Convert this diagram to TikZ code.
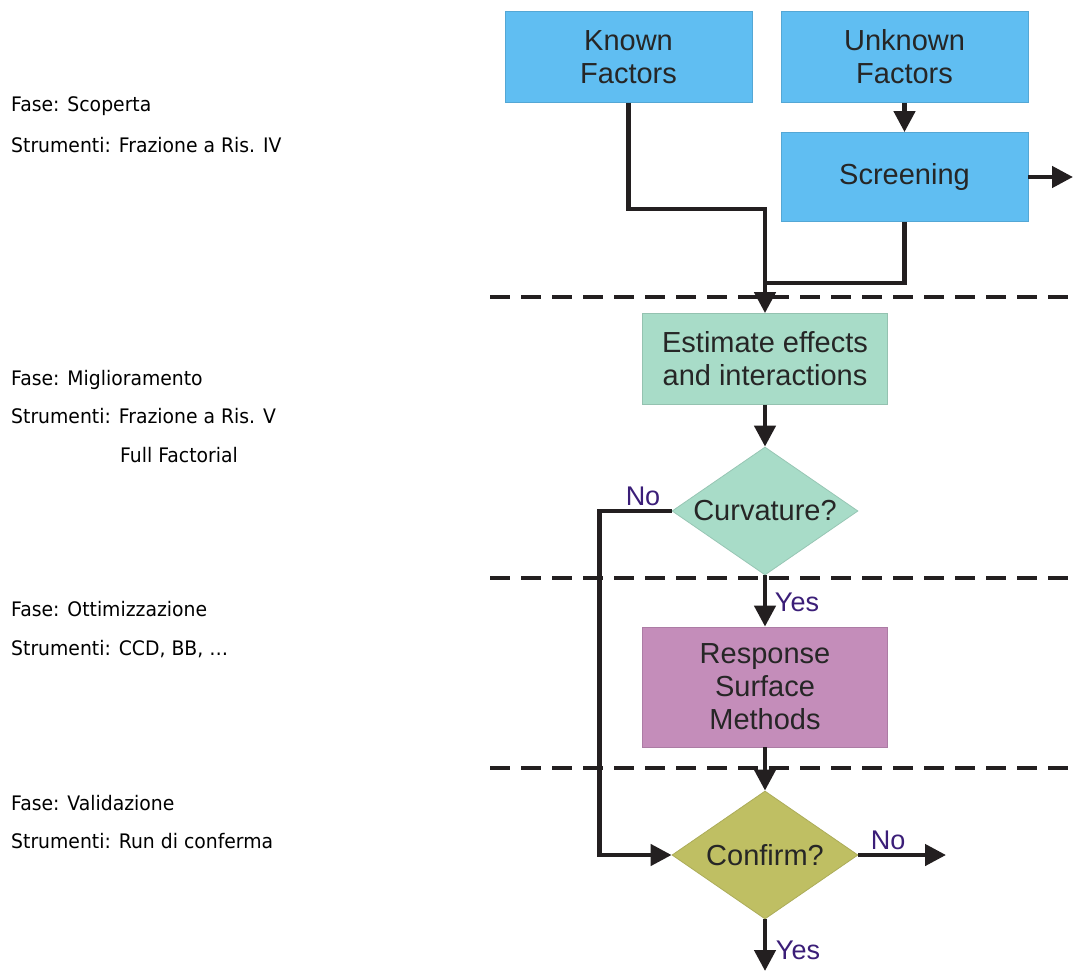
\documentclass[tikz,border=0pt]{standalone}
\usepackage{fontspec}
\setmainfont{Liberation Sans}
\newfontfamily\phasefont[FakeStretch=0.94]{DejaVu Sans}
\usetikzlibrary{arrows.meta,shapes.geometric}
\definecolor{kfblue}{RGB}{96,190,242}
\definecolor{efmint}{RGB}{168,220,200}
\definecolor{rsmauve}{RGB}{196,141,186}
\definecolor{cfolive}{RGB}{191,191,99}
\definecolor{ansviolet}{RGB}{59,30,120}
\definecolor{txtgray}{RGB}{38,38,38}
\definecolor{linkblack}{RGB}{35,31,32}
\begin{document}
\begin{tikzpicture}
  [
    x=1pt, y=-1pt,
    box/.style={draw=#1!88!black, fill=#1, line width=0.8pt, inner sep=0pt,
      minimum width=247pt, minimum height=91pt, align=center, text=txtgray,
      font=\fontsize{29}{33}\selectfont},
    decision/.style={diamond, draw=#1!90!black, fill=#1, line width=0.8pt,
      inner sep=0pt, aspect=1.45, minimum width=186pt, minimum height=128pt,
      text=txtgray, font=\fontsize{29}{33}\selectfont},
    flow/.style={draw=linkblack, line width=4.5pt,
      -{Triangle[length=21pt,width=21pt]}},
    link/.style={draw=linkblack, line width=4.5pt},
    phaseline/.style={draw=linkblack, line width=4pt, dash pattern=on 20pt off 11pt},
    answer/.style={text=ansviolet, font=\fontsize{27}{30}\selectfont},
    phase/.style={anchor=base west, inner sep=0pt, font=\phasefont\fontsize{20}{22}\selectfont}
  ]
  \useasboundingbox (0,0) rectangle (1075,971);
  % phases
  \node [phase] (scoperta) at (11,112) {Fase: Scoperta};
  \node [phase] (strscoperta) at (11,152) {Strumenti: Frazione a Ris. IV};
  \node [phase] (miglior) at (11,385) {Fase: Miglioramento};
  \node [phase] (strmiglior) at (11,423) {Strumenti: Frazione a Ris. V};
  \node [phase] (fullfact) at (120,462) {Full Factorial};
  \node [phase] (ottim) at (11,616) {Fase: Ottimizzazione};
  \node [phase] (strottim) at (11,655) {Strumenti: CCD, BB, …};
  \node [phase] (valid) at (11,810) {Fase: Validazione};
  \node [phase] (strvalid) at (11,848) {Strumenti: Run di conferma};
  % phase borders
  \foreach \y in {297,578,768} {
      \draw [phaseline] (490,\y) -- (1075,\y);
  }
  % boxes
  \node [box=kfblue] (known) at (628.5,57) {Known\\Factors};
  \node [box=kfblue] (unknown) at (904.5,57) {Unknown\\Factors};
  \node [box=kfblue, minimum height=89pt] (screen) at (904.5,177) {Screening};
  \node [box=efmint, minimum width=245pt] (estimate) at (765,359) {Estimate effects\\and interactions};
  \node [decision=efmint] (curv) at (765,511) {Curvature?};
  \node [box=rsmauve, minimum width=245pt, minimum height=120pt] (rsm) at (765,687) {Response\\Surface\\Methods};
  \node [decision=cfolive] (confirm) at (765,855) {Confirm?};
  % loose ends
  \coordinate (merge) at (765,283);
  \coordinate (screenout) at (1073,177);
  \coordinate (confno) at (946,855);
  \coordinate (confyes) at (765,971);
  % answers
  \node [answer] (curvno) at (643,496) {No};
  \node [answer] (curvyes) at (797,602) {Yes};
  \node [answer] (cfno) at (888,840) {No};
  \node [answer] (cfyes) at (798,950) {Yes};
  % connectors
  \draw [flow] (unknown) -- (screen);
  \draw [flow] (screen.east) -- (screenout);
  \draw [link] (screen.south) |- (merge);
  \draw [flow] (known.south) -- ++(0,106) -| (estimate.north);
  \draw [flow] (estimate) -- (curv);
  \draw [flow] (curv.west) -- ++(-72,0) |- (confirm.west);
  \draw [flow] (curv) -- (rsm);
  \draw [flow] (rsm) -- (confirm);
  \draw [flow] (confirm.east) -- (confno);
  \draw [flow] (confirm) -- (confyes);
\end{tikzpicture}
\end{document}
